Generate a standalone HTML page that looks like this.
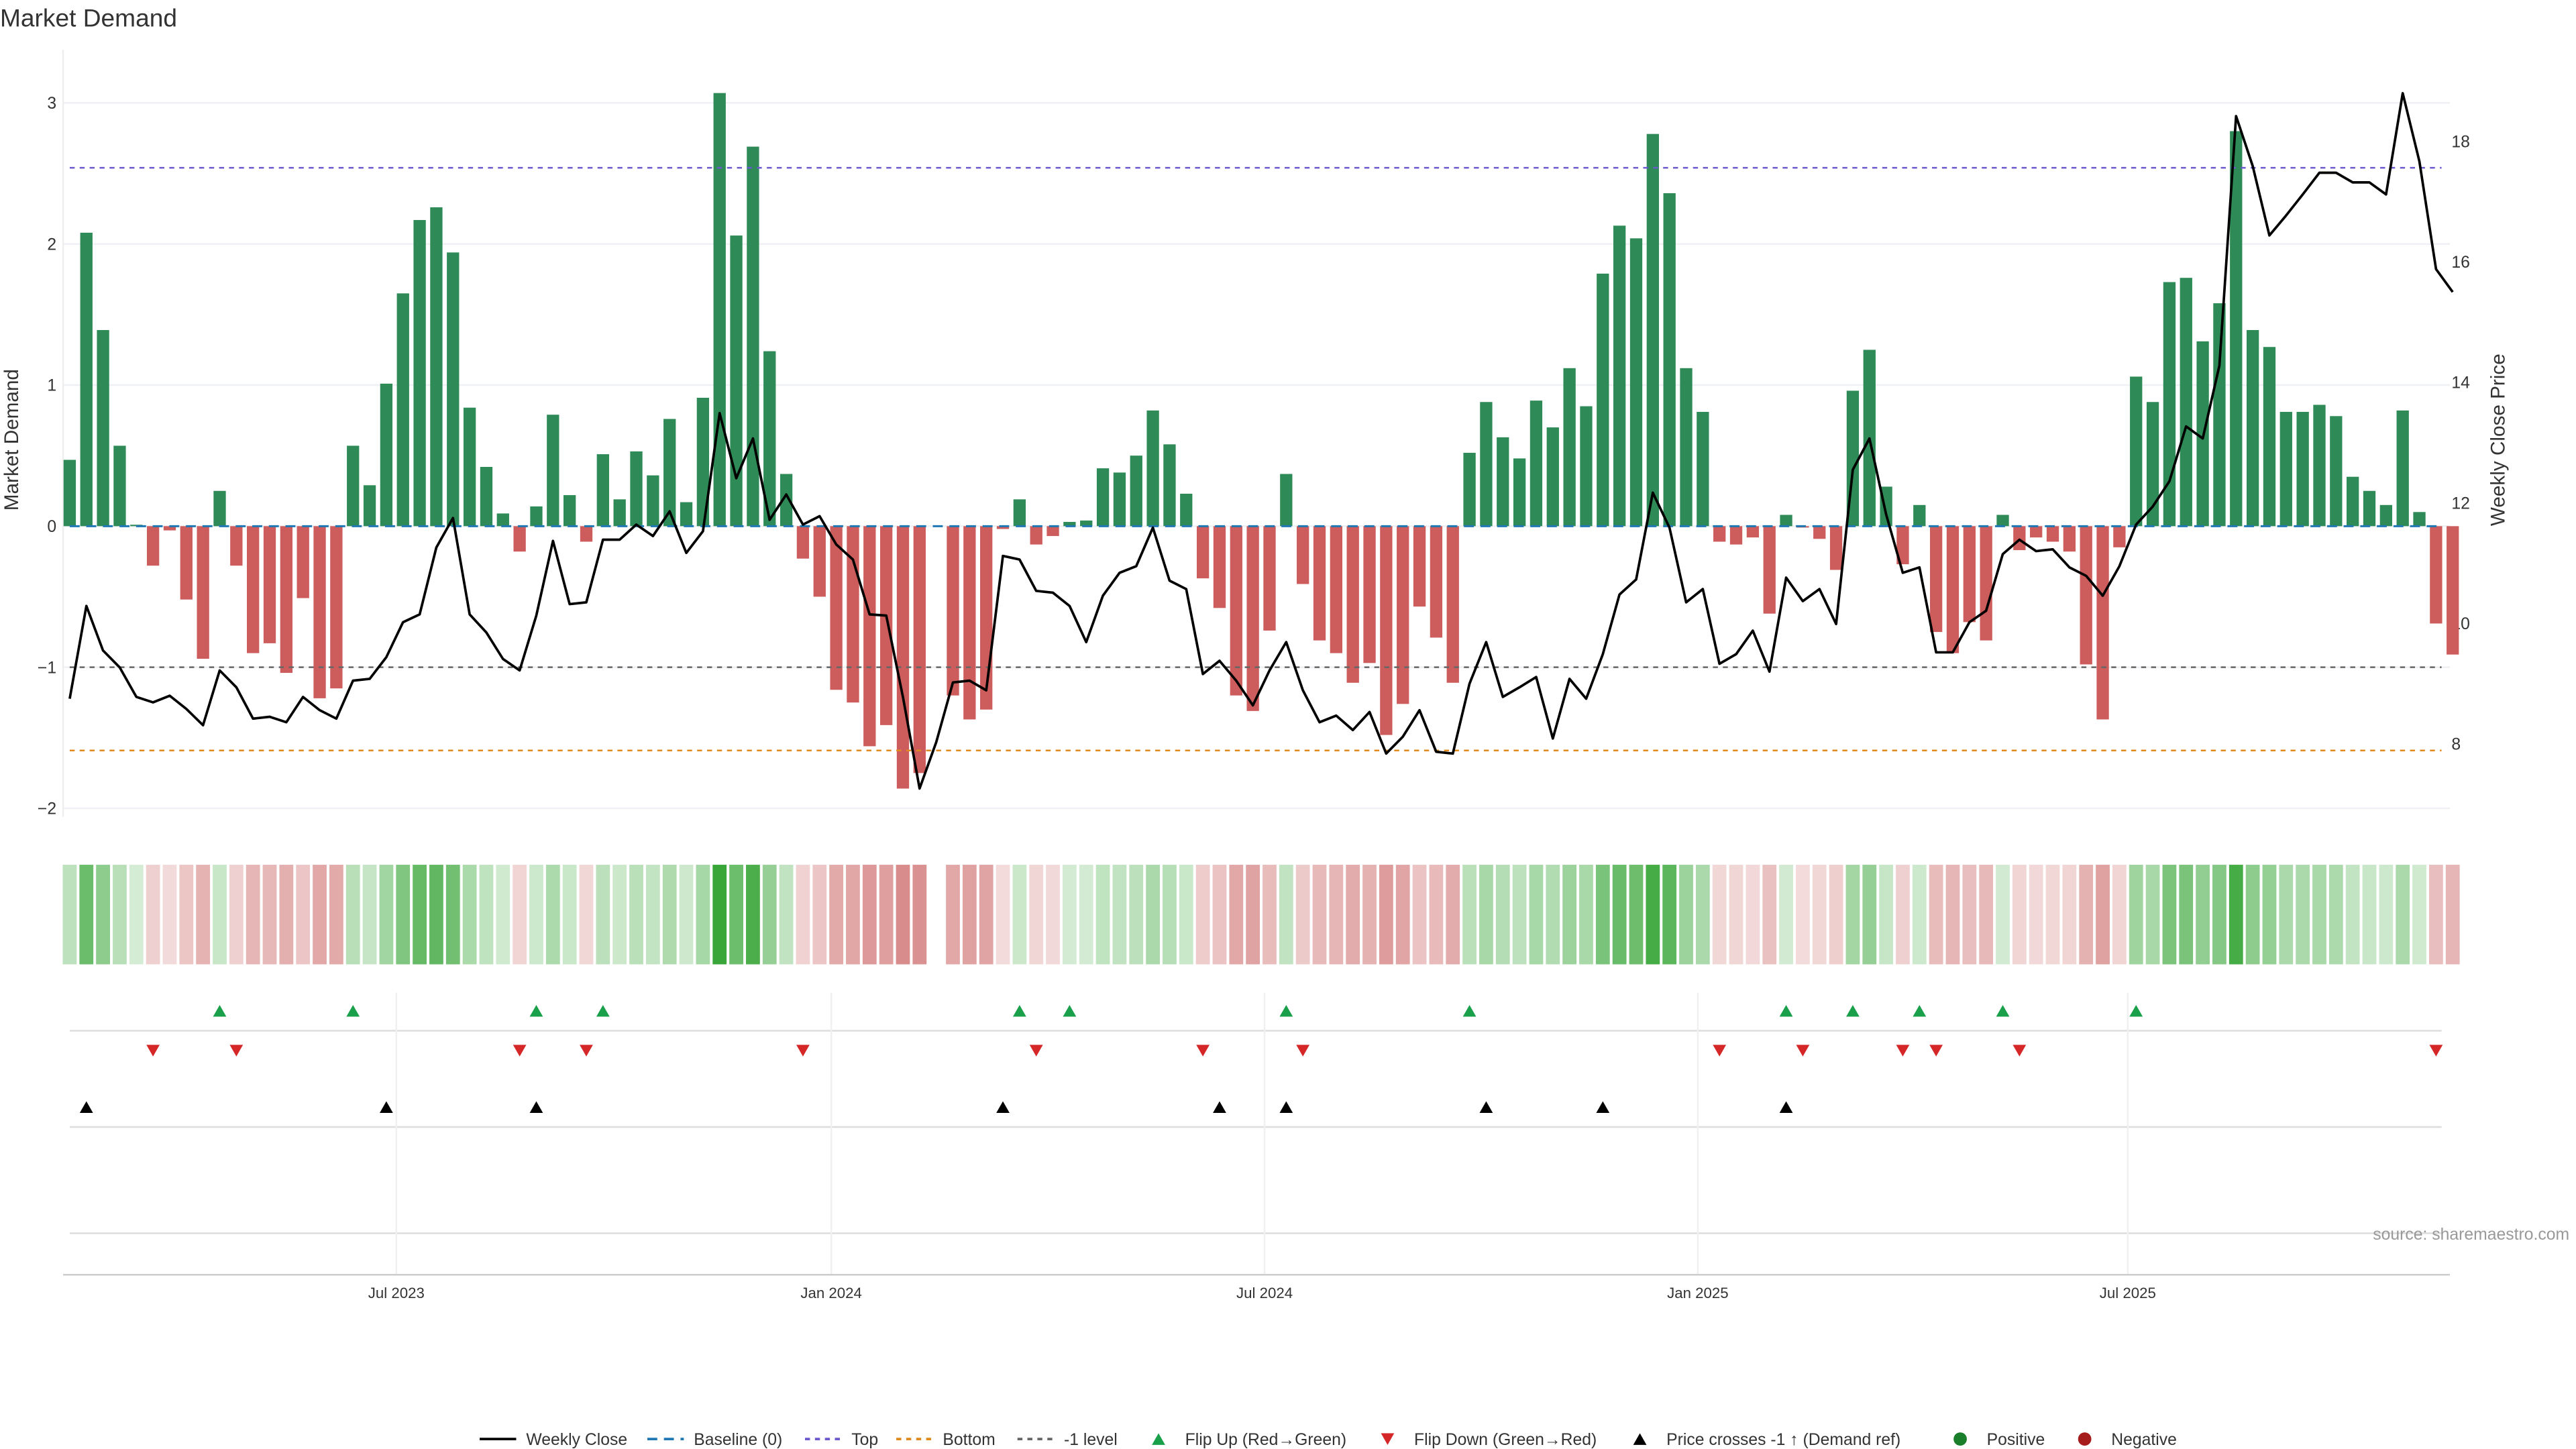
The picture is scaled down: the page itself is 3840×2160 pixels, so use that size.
<!DOCTYPE html>
<html><head><meta charset="utf-8"><style>
html,body{margin:0;padding:0;background:#fff}
svg{display:block;font-family:"Liberation Sans","DejaVu Sans",sans-serif}
</style></head><body>
<svg id="chart" width="3840" height="2160" viewBox="0 0 1552 873" xmlns="http://www.w3.org/2000/svg">
<text x="0" y="16" font-size="15" fill="#333">Market Demand</text>
<g id="main"></g>
<text transform="translate(11,265) rotate(-90)" text-anchor="middle" font-size="12" fill="#333">Market Demand</text>
<text transform="translate(1509,265) rotate(-90)" text-anchor="middle" font-size="12" fill="#333">Weekly Close Price</text>
<text x="1548" y="747" text-anchor="end" font-size="10" fill="#999">source: sharemaestro.com</text>
<g id="legend"></g>
</svg>
<script>
const demand=[0.47,2.08,1.39,0.57,0.01,-0.28,-0.03,-0.52,-0.94,0.25,-0.28,-0.9,-0.83,-1.04,-0.51,-1.22,-1.15,0.57,0.29,1.01,1.65,2.17,2.26,1.94,0.84,0.42,0.09,-0.18,0.14,0.79,0.22,-0.11,0.51,0.19,0.53,0.36,0.76,0.17,0.91,3.07,2.06,2.69,1.24,0.37,-0.23,-0.5,-1.16,-1.25,-1.56,-1.41,-1.86,-1.75,null,-1.2,-1.37,-1.3,-0.02,0.19,-0.13,-0.07,0.03,0.04,0.41,0.38,0.5,0.82,0.58,0.23,-0.37,-0.58,-1.2,-1.31,-0.74,0.37,-0.41,-0.81,-0.9,-1.11,-0.97,-1.48,-1.26,-0.57,-0.79,-1.11,0.52,0.88,0.63,0.48,0.89,0.7,1.12,0.85,1.79,2.13,2.04,2.78,2.36,1.12,0.81,-0.11,-0.13,-0.08,-0.62,0.08,-0.01,-0.09,-0.31,0.96,1.25,0.28,-0.27,0.15,-0.75,-0.9,-0.68,-0.81,0.08,-0.17,-0.08,-0.11,-0.18,-0.98,-1.37,-0.15,1.06,0.88,1.73,1.76,1.31,1.58,2.8,1.39,1.27,0.81,0.81,0.86,0.78,0.35,0.25,0.15,0.82,0.1,-0.69,-0.91];
const price=[8.75,10.29,9.55,9.27,8.78,8.69,8.8,8.58,8.31,9.22,8.94,8.42,8.45,8.36,8.78,8.56,8.42,9.05,9.08,9.44,10.02,10.15,11.26,11.75,10.15,9.85,9.41,9.22,10.13,11.37,10.32,10.35,11.39,11.39,11.64,11.45,11.86,11.17,11.53,13.49,12.41,13.07,11.72,12.14,11.64,11.78,11.31,11.06,10.15,10.13,8.78,7.26,8.03,9.02,9.05,8.89,11.12,11.06,10.54,10.51,10.29,9.69,10.46,10.84,10.95,11.59,10.71,10.57,9.16,9.38,9.05,8.64,9.22,9.69,8.89,8.36,8.47,8.23,8.53,7.84,8.12,8.56,7.87,7.84,9.0,9.69,8.78,8.94,9.11,8.09,9.08,8.75,9.49,10.48,10.73,12.17,11.59,10.35,10.57,9.33,9.49,9.88,9.2,10.76,10.37,10.57,9.99,12.55,13.07,11.81,10.84,10.93,9.52,9.52,10.02,10.21,11.15,11.39,11.2,11.23,10.93,10.79,10.46,10.95,11.64,11.94,12.36,13.27,13.07,14.28,18.42,17.59,16.44,16.77,17.12,17.48,17.48,17.32,17.32,17.12,18.8,17.67,15.88,15.5];
const xTickLabels=["Jul 2023","Jan 2024","Jul 2024","Jan 2025","Jul 2025"];
const xTickWeeks=[19.6,45.7,71.7,97.7,123.5];
const yTicks=[3,2,1,0,-1,-2];
const y2Ticks=[18,16,14,12,10,8];
const topLevel=2.54, bottomLevel=-1.59, minusLevel=-1;

const NS="http://www.w3.org/2000/svg";
const g=document.getElementById('main');
function el(t,a,p){const e=document.createElementNS(NS,t);for(const k in a)e.setAttribute(k,a[k]);(p||g).appendChild(e);return e;}
const X0=42,DX=10.04,L=38,R=1476;
const xs=i=>X0+i*DX;
const ys=v=>317-v*85;
const yp=p=>303-(p-12)*36.3;
const pToD=p=>(317-yp(p))/85;

// grid
yTicks.forEach(t=>{
 let e=el('line',{x1:L,x2:R,y1:ys(t),y2:ys(t),stroke:'#eef0f3','stroke-width':1});
 
 
 let tx=el('text',{x:34,y:ys(t)+3.5,'text-anchor':'end','font-size':10,fill:'#333'});
 tx.textContent=t<0?'\u2212'+Math.abs(t):String(t);
 
 
});
y2Ticks.forEach(t=>{
 let tx=el('text',{x:1477,y:yp(t)+3.5,'font-size':10,fill:'#333'});
 tx.textContent=String(t);
 
 
});
let ax=el('line',{x1:L,x2:L,y1:30,y2:492,stroke:'#eee'});



// bars
demand.forEach((v,i)=>{
 if(v===null)return;
 const y0=ys(0),y1=ys(v);
 let r=el('rect',{x:xs(i)-3.7,width:7.4,y:Math.min(y0,y1),height:Math.max(Math.abs(y1-y0),0.3),fill:v>=0?'#2e8b57':'#cd5c5c'});
 
 
});
// levels
[[topLevel,'#6a5acd','top-line'],[bottomLevel,'#e08a1e','bottom-line'],[minusLevel,'#666','minus-one-line']].forEach(([v,c,n])=>{
 let e=el('line',{x1:42,x2:1471,y1:ys(v),y2:ys(v),stroke:c,'stroke-width':1,'stroke-dasharray':'3,3'});
 
 
});
let bl=el('line',{x1:42,x2:1471,y1:ys(0),y2:ys(0),stroke:'#1f77b4','stroke-width':1.2,'stroke-dasharray':'6,4'});


// price line
let pl=el('polyline',{points:price.map((p,i)=>xs(i)+','+yp(p)).join(' '),fill:'none',stroke:'#000','stroke-width':1.5,'stroke-linejoin':'round'});



// heatmap
demand.forEach((v,i)=>{
 if(v===null)return;
 const a=Math.min(Math.abs(v)/3.1,1);
 const op=0.2+0.75*a;
 let r=el('rect',{x:xs(i)-4.2,width:8.4,y:521,height:60,fill:v>=0?'#2ca02c':'#c44e4e','fill-opacity':op.toFixed(3)});
 
 
});

// marker rows
[[621,'flip-row-line'],[679,'cross-row-line'],[743,'empty-row-line']].forEach(([y,n])=>{
 let e=el('line',{x1:42,x2:1471,y1:y,y2:y,stroke:'#ddd','stroke-width':1});
 
 
});
xTickWeeks.forEach((w,k)=>{
 let e=el('line',{x1:xs(w),x2:xs(w),y1:598,y2:768,stroke:'#f0f0f0','stroke-width':1});
 
 
 let tx=el('text',{x:xs(w),y:782,'text-anchor':'middle','font-size':9,fill:'#333'});
 tx.textContent=xTickLabels[k];
 
 
});
let xa=el('line',{x1:L,x2:R,y1:768,y2:768,stroke:'#ccc','stroke-width':1});



function tri(x,y,up,c,name){
 const p=up?`${x-4},${y+3.5} ${x+4},${y+3.5} ${x},${y-3.5}`:`${x-4},${y-3.5} ${x+4},${y-3.5} ${x},${y+3.5}`;
 let e=el('polygon',{points:p,fill:c});
 
 
}
let prev=null;
demand.forEach((v,i)=>{
 if(v===null)return;
 if(prev!==null){
  if(prev<0&&v>=0)tri(xs(i),609,true,'#1a9f4a','flip-up-marker');
  if(prev>=0&&v<0)tri(xs(i),633,false,'#d62728','flip-down-marker');
 }
 prev=v;
});
price.forEach((p,i)=>{
 if(i>0&&pToD(price[i-1])<minusLevel&&pToD(p)>=minusLevel)tri(xs(i),667,true,'#000','price-cross-marker');
});

// legend
const lg=document.getElementById('legend');
const items=[['line','#000','','Weekly Close',289],['line','#1f77b4','6,4','Baseline (0)',390],['line','#6a5acd','3,3','Top',485],['line','#e08a1e','3,3','Bottom',540],['line','#666','3,3','-1 level',613],['tri','#1a9f4a','','Flip Up (Red\u2192Green)',698],['trid','#d62728','','Flip Down (Green\u2192Red)',836],['tri','#000','','Price crosses -1 \u2191 (Demand ref)',988],['dot','#1a7f2a','','Positive',1181],['dot','#a61c1c','','Negative',1256]];
items.forEach(([t,c,d,label,x])=>{
 const gi=el('g',{},lg);
 
 
 const y=867;
 if(t==='line')el('line',{x1:x,x2:x+22,y1:y,y2:y,stroke:c,'stroke-width':1.5,'stroke-dasharray':d},gi);
 else if(t==='tri')el('polygon',{points:`${x-4},${y+3.5} ${x+4},${y+3.5} ${x},${y-3.5}`,fill:c},gi);
 else if(t==='trid')el('polygon',{points:`${x-4},${y-3.5} ${x+4},${y-3.5} ${x},${y+3.5}`,fill:c},gi);
 else el('circle',{cx:x,cy:y,r:4,fill:c},gi);
 const tx=el('text',{x:t==='line'?x+28:x+16,y:y+3.5,'font-size':10,fill:'#333'},gi);
 tx.textContent=label;
});
</script>
</body></html>
